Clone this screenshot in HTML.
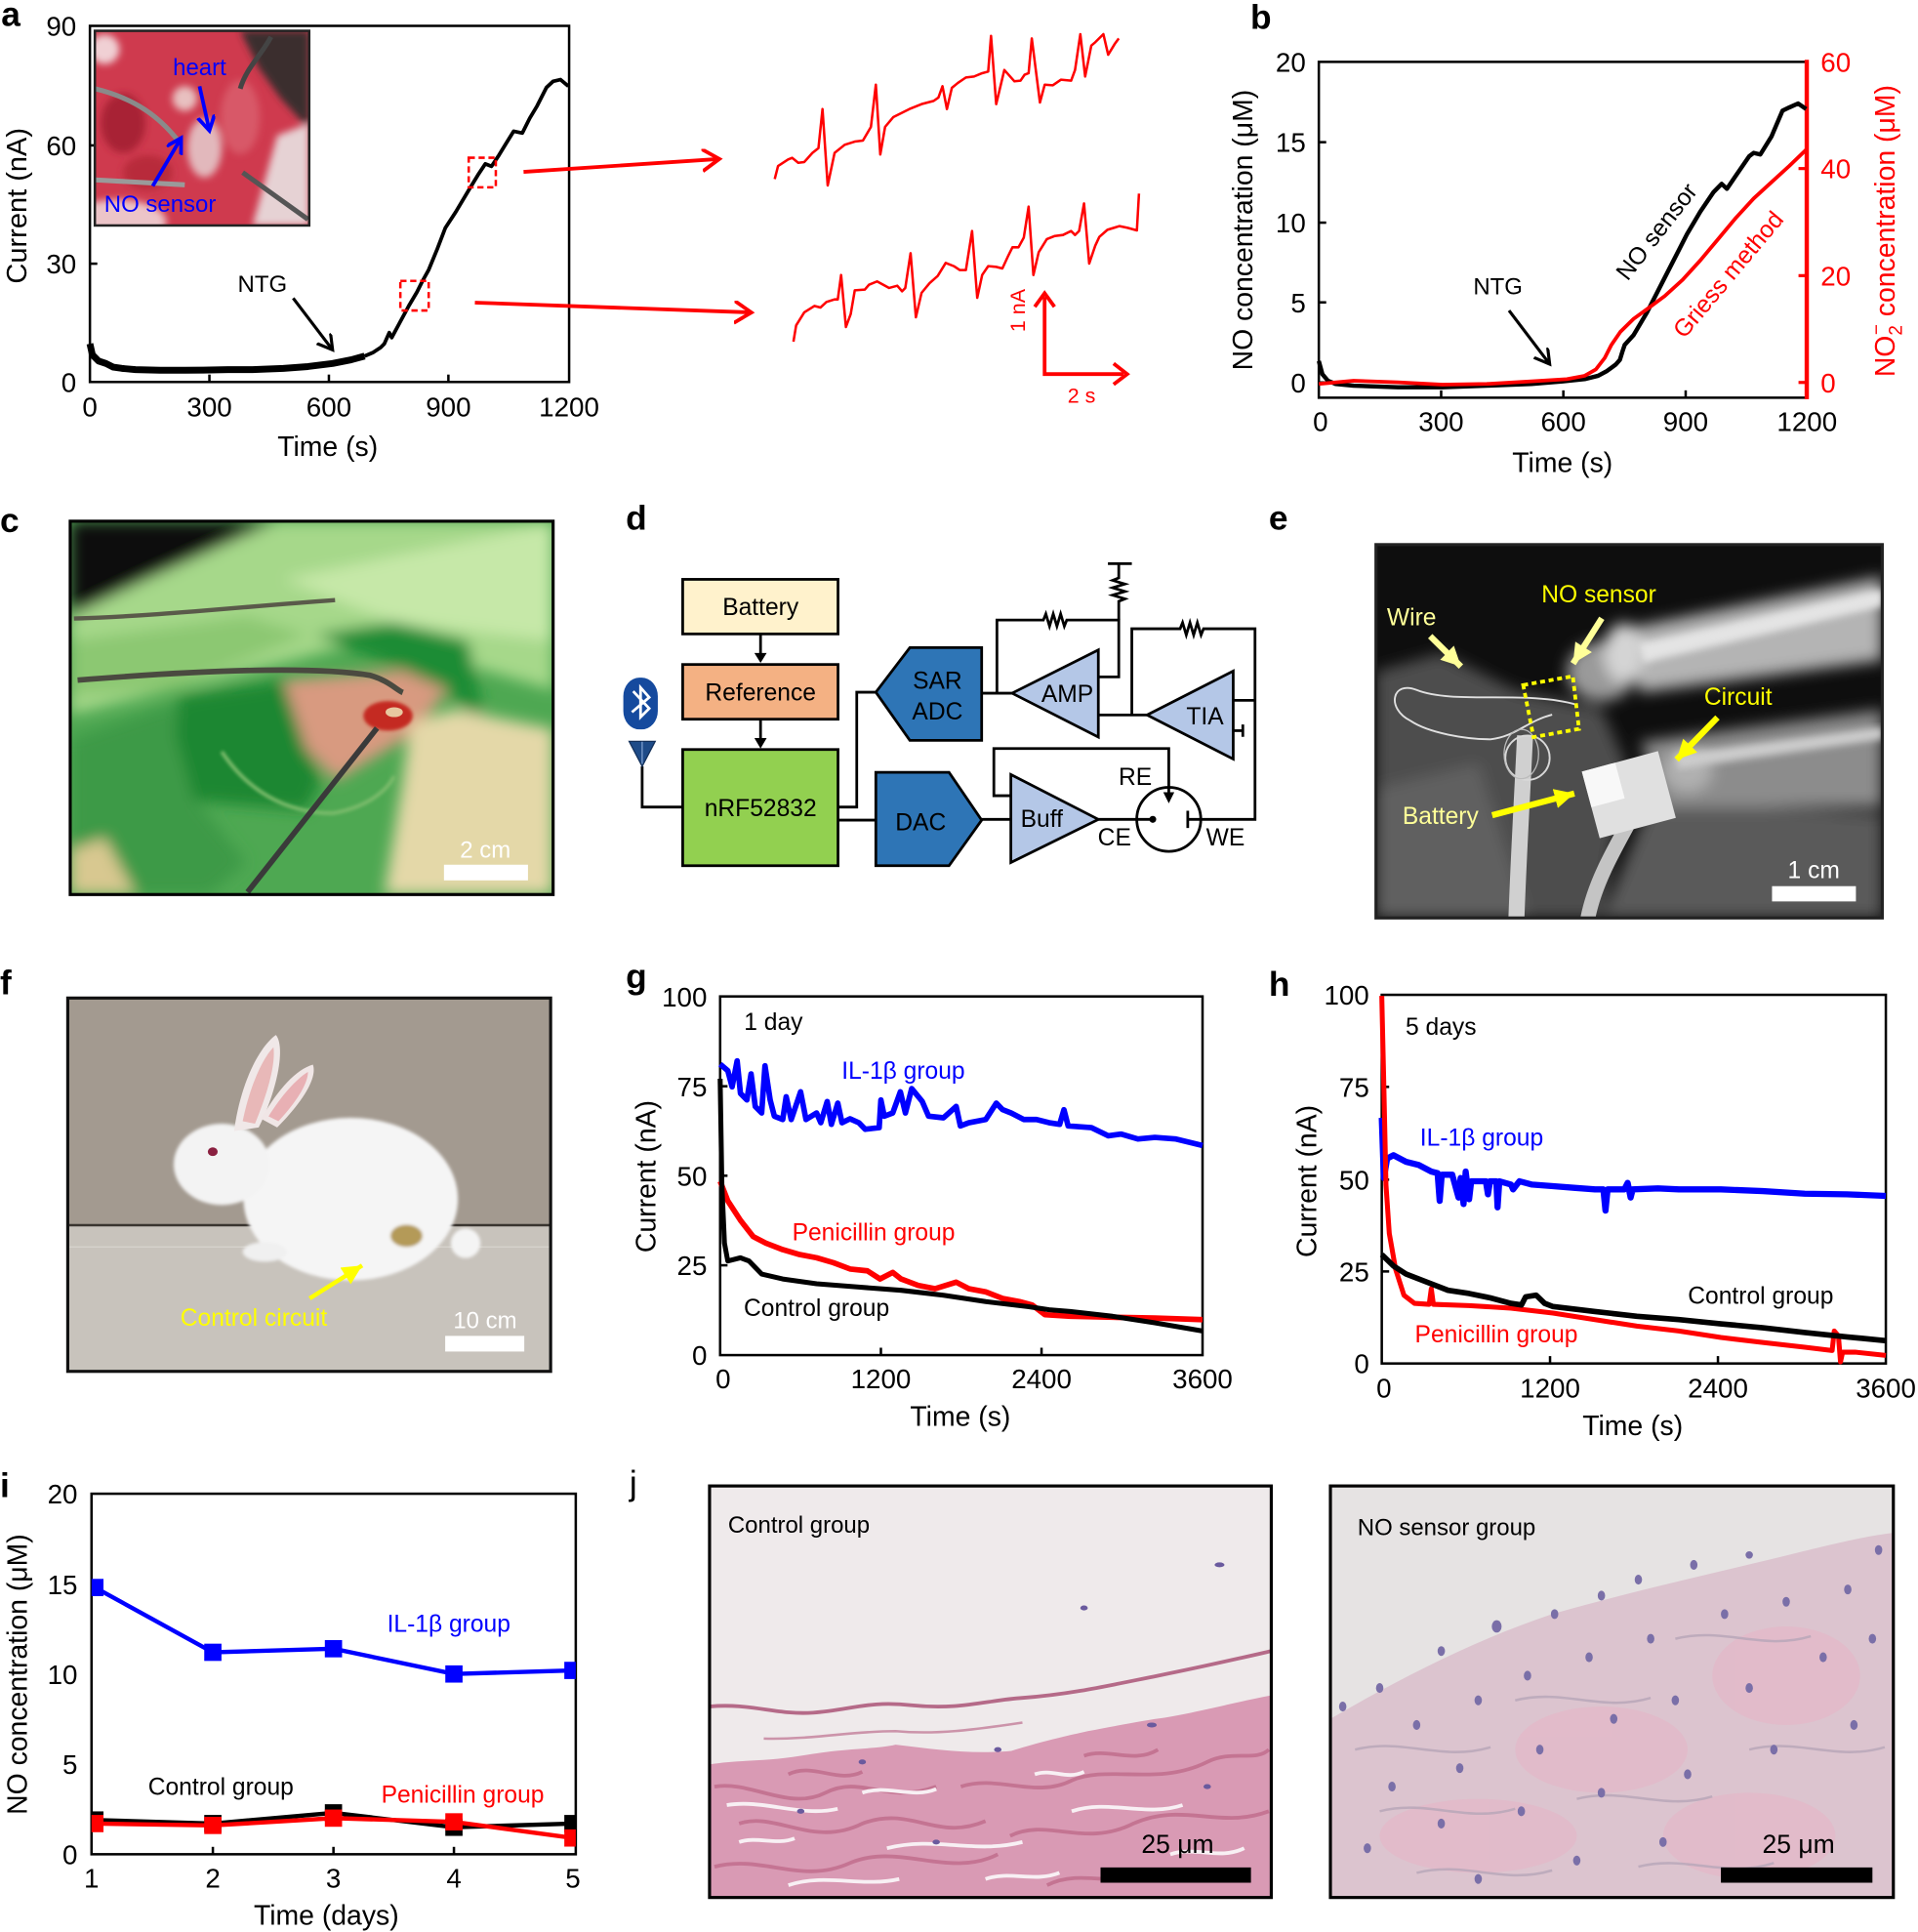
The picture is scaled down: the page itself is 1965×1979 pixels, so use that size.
<!DOCTYPE html>
<html><head><meta charset="utf-8"><style>
html,body{margin:0;padding:0;background:#fff;}
svg{display:block;}
text{font-family:"Liberation Sans",Arial,sans-serif;}
</style></head><body>
<svg width="1965" height="1979" viewBox="0 0 1557 1568" preserveAspectRatio="none" xmlns="http://www.w3.org/2000/svg">
<defs>
<filter id="bl" x="-10%" y="-10%" width="120%" height="120%"><feGaussianBlur stdDeviation="3"/></filter>
<filter id="bl2" x="-10%" y="-10%" width="120%" height="120%"><feGaussianBlur stdDeviation="6"/></filter>
<filter id="bl1" x="-10%" y="-10%" width="120%" height="120%"><feGaussianBlur stdDeviation="1.2"/></filter>
<clipPath id="cpA"><rect x="77" y="25" width="174" height="158"/></clipPath>
<clipPath id="cpC"><rect x="57" y="423" width="392" height="303"/></clipPath>
<clipPath id="cpE"><rect x="1117" y="442" width="411" height="303"/></clipPath>
<clipPath id="cpF"><rect x="55" y="810" width="392" height="303"/></clipPath>
<clipPath id="cpJ1"><rect x="576" y="1206" width="456" height="334"/></clipPath>
<clipPath id="cpJ2"><rect x="1080" y="1206" width="457" height="334"/></clipPath>
<clipPath id="cpI"><rect x="74.3" y="1212.3" width="393.1" height="292.6"/></clipPath>
<marker id="ahK" markerUnits="userSpaceOnUse" markerWidth="20" markerHeight="20" refX="12" refY="7" orient="auto"><path d="M0,0 L12,7 L0,14" fill="none" stroke="#000" stroke-width="2.5"/></marker>
<marker id="ahB" markerUnits="userSpaceOnUse" markerWidth="20" markerHeight="20" refX="12" refY="7" orient="auto"><path d="M0,0 L12,7 L0,14" fill="none" stroke="#0000ff" stroke-width="3"/></marker>
<marker id="ahR" markerUnits="userSpaceOnUse" markerWidth="24" markerHeight="24" refX="14" refY="9" orient="auto"><path d="M0,0 L14,9 L0,18" fill="none" stroke="#ff0000" stroke-width="3"/></marker>
<marker id="ahY" markerUnits="userSpaceOnUse" markerWidth="24" markerHeight="24" refX="16" refY="8" orient="auto"><path d="M0,0 L16,8 L0,16 Z" fill="#ffff00"/></marker>
<marker id="ahY2" markerUnits="userSpaceOnUse" markerWidth="24" markerHeight="24" refX="16" refY="8" orient="auto"><path d="M0,0 L16,8 L0,16 Z" fill="#ffff99"/></marker>
</defs>

<!-- ============ Panel labels ============ -->
<g font-weight="bold" font-size="28" fill="#000">
<text x="1" y="21">a</text>
<text x="1015" y="23.5">b</text>
<text x="0" y="432">c</text>
<text x="508" y="430">d</text>
<text x="1030" y="430">e</text>
<text x="0" y="807">f</text>
<text x="508" y="802">g</text>
<text x="1030" y="808">h</text>
<text x="0" y="1215">i</text>
</g>
<text x="511" y="1213" font-size="28" fill="#000">j</text>

<!-- ============ Panel a ============ -->
<g>
<rect x="73" y="21" width="389" height="289" fill="none" stroke="#000" stroke-width="2"/>
<g stroke="#000" stroke-width="2">
<line x1="170" y1="310" x2="170" y2="304"/><line x1="267" y1="310" x2="267" y2="304"/><line x1="364" y1="310" x2="364" y2="304"/>
<line x1="73" y1="118" x2="79" y2="118"/><line x1="73" y1="214" x2="79" y2="214"/>
</g>
<g font-size="22" text-anchor="end"><text x="62" y="29">90</text><text x="62" y="126">60</text><text x="62" y="222">30</text><text x="62" y="318">0</text></g>
<g font-size="22" text-anchor="middle"><text x="73" y="338">0</text><text x="170" y="338">300</text><text x="267" y="338">600</text><text x="364" y="338">900</text><text x="462" y="338">1200</text></g>
<text x="266" y="370" font-size="22.5" text-anchor="middle">Time (s)</text>
<text transform="translate(21.5,167) rotate(-90)" font-size="23" text-anchor="middle">Current (nA)</text>
<!-- inset photo -->
<g clip-path="url(#cpA)">
<rect x="77" y="25" width="174" height="158" fill="#cf3a4e"/>
<g filter="url(#bl)">
<polygon points="195,25 251,25 251,105 228,80 210,55" fill="#3a2f2f"/>
<ellipse cx="95" cy="180" rx="40" ry="18" fill="#ecc4c8"/>
<polygon points="225,110 251,100 251,183 205,183" fill="#e6d2d4"/>
<ellipse cx="100" cy="100" rx="18" ry="24" fill="#a82234"/>
<ellipse cx="166" cy="120" rx="14" ry="24" fill="#e2b8bc"/>
<ellipse cx="150" cy="80" rx="10" ry="10" fill="#e8c0c0"/>
<ellipse cx="195" cy="95" rx="16" ry="30" fill="#d85868"/>
<ellipse cx="85" cy="40" rx="12" ry="12" fill="#f0d0d4"/>
<ellipse cx="120" cy="140" rx="20" ry="14" fill="#b82a3a"/>
</g>
<path d="M77,72 C110,80 130,95 146,116" stroke="#8a8a8a" stroke-width="4" fill="none"/>
<path d="M77,146 L150,150" stroke="#9a9a9a" stroke-width="4" fill="none"/>
<path d="M197,140 L250,178" stroke="#555" stroke-width="4" fill="none"/>
<path d="M220,30 C212,45 200,55 195,72" stroke="#444" stroke-width="4" fill="none"/>
</g>
<rect x="77" y="25" width="174" height="158" fill="none" stroke="#222" stroke-width="2"/>
<text x="162" y="61" font-size="19" fill="#0000ff" text-anchor="middle">heart</text>
<text x="130" y="172" font-size="19" fill="#0000ff" text-anchor="middle">NO sensor</text>
<line x1="162" y1="70" x2="170" y2="106" stroke="#0000ff" stroke-width="3" marker-end="url(#ahB)"/>
<line x1="124" y1="151" x2="147" y2="112" stroke="#0000ff" stroke-width="3" marker-end="url(#ahB)"/>
<!-- curve -->
<polyline fill="none" stroke="#000" stroke-width="5.5" stroke-linejoin="round" points="73,279 75,288 80,293 86,295 92,298 99,299 110,300 130,300.5 150,300.5 165,300.4 185,300 205,300 230,299 250,297.5 270,295 285,292 296,289"/>
<polyline fill="none" stroke="#000" stroke-width="3" stroke-linejoin="round" points="296,289 303,286 309,282 312,279 316,270 318,274 325,261 332,248 338.5,237 343,228 348,219 355,202 361.5,185 370,172 381,153.5 388,142 394,133 399,135 405,126 410.5,117 417,106.5 424,108 430,96 436,86 443.6,71 449,66 455,64.6 461.4,70"/>
<rect x="380.5" y="128" width="22" height="24" fill="none" stroke="#ff0000" stroke-width="2" stroke-dasharray="5,3"/>
<rect x="325" y="228" width="23" height="24" fill="none" stroke="#ff0000" stroke-width="2" stroke-dasharray="5,3"/>
<text x="213" y="237" font-size="19" text-anchor="middle">NTG</text>
<line x1="238" y1="242" x2="270" y2="284" stroke="#000" stroke-width="2.5" marker-end="url(#ahK)"/>
<line x1="425" y1="139.5" x2="584" y2="129" stroke="#ff0000" stroke-width="3" marker-end="url(#ahR)"/>
<line x1="385.5" y1="245.6" x2="610" y2="253.6" stroke="#ff0000" stroke-width="3" marker-end="url(#ahR)"/>
<polyline fill="none" stroke="#ff0000" stroke-width="2" stroke-linejoin="round" points="628.9,145.3 631.6,134.7 639.8,129.4 643.1,128.1 648,132.1 652.9,131.5 659.5,124.1 664.4,120.2 667.7,88.5 671.9,150.5 677.5,124.1 685.7,117.5 693.9,114.9 700.5,114.1 707,103 711,68.7 714.6,125.4 718.5,103 725.1,95.1 738.2,88.5 748.1,84.5 757.9,81.9 761.8,79.2 765.1,70 768.7,88.5 772.7,71.3 777.6,67.3 784.1,62.9 790.7,62.1 797.3,59.4 802.2,58.1 804.5,29.1 808.7,84.5 815.3,56.8 823.5,66 828.4,65.5 831.7,60.7 835,59.4 837.6,31.2 844.2,83.2 848.1,68.7 854.7,69.2 861.2,64.7 869.5,65.5 872.7,56.8 877,27.7 880.9,62.1 885.9,37 889.1,34.3 895.7,27.7 899.6,44.4 904.9,35.7 908.2,31.2"/>
<polyline fill="none" stroke="#ff0000" stroke-width="2" stroke-linejoin="round" points="644.1,277.3 646.3,264.1 652.9,253.5 661.1,248.3 666,249.6 670.9,245.1 677.5,243 680.1,243 682.8,223.2 686.7,265.4 690.6,254.9 693.9,235.6 702.1,235 705.4,231.1 712,228.4 721.8,233.7 728.4,231.9 732.3,236.4 734.9,233.7 739.2,205.5 743.5,257.5 748.1,237.7 754.6,229.8 761.2,224 767.7,213.4 774.3,216 779.2,219.2 784.1,219.2 789.1,187.5 793.3,241.7 797.3,223.2 802.2,216 808.7,216.6 813.7,217.9 818.6,207.3 821.9,200.7 826.8,200.7 831.1,192.8 835,167.7 838.9,223.2 843.2,204.7 849.8,194.1 856.3,191.5 862.9,190.7 869.5,187.5 872.7,190.7 876,187.5 880,165.1 884.2,213.9 889.1,199.4 892.4,192.3 899,186.5 908.8,183.5 915.4,184.9 922.9,187 924.6,157.1"/>
<polyline fill="none" stroke="#ff0000" stroke-width="3" points="848,241 848,303.6 912,303.6"/>
<polyline fill="none" stroke="#ff0000" stroke-width="3" points="840,249 848,238 856,249"/>
<polyline fill="none" stroke="#ff0000" stroke-width="3" points="904,295 915,303.6 904,312"/>
<text transform="translate(832,252) rotate(-90)" font-size="17" fill="#ff0000" text-anchor="middle">1 nA</text>
<text x="878" y="327" font-size="17" fill="#ff0000" text-anchor="middle">2 s</text>
</g>

<!-- ============ Panel b ============ -->
<g>
<polyline points="1466.7,50.2 1070.6,50.2 1070.6,322.8 1466.7,322.8" fill="none" stroke="#000" stroke-width="2"/>
<line x1="1466.7" y1="48.5" x2="1466.7" y2="324" stroke="#ff0000" stroke-width="3.5"/>
<g stroke="#000" stroke-width="2">
<line x1="1169.9" y1="322.8" x2="1169.9" y2="316.8"/><line x1="1269.1" y1="322.8" x2="1269.1" y2="316.8"/><line x1="1368.4" y1="322.8" x2="1368.4" y2="316.8"/>
<line x1="1070.6" y1="115.4" x2="1076.6" y2="115.4"/><line x1="1070.6" y1="180.7" x2="1076.6" y2="180.7"/><line x1="1070.6" y1="245.4" x2="1076.6" y2="245.4"/><line x1="1070.6" y1="310.4" x2="1076.6" y2="310.4"/>
</g>
<g stroke="#ff0000" stroke-width="2.5">
<line x1="1466.7" y1="136.8" x2="1460" y2="136.8"/><line x1="1466.7" y1="223.7" x2="1460" y2="223.7"/><line x1="1466.7" y1="310.4" x2="1460" y2="310.4"/>
</g>
<g font-size="22" text-anchor="end"><text x="1060" y="58.2">20</text><text x="1060" y="123.4">15</text><text x="1060" y="188.7">10</text><text x="1060" y="253.4">5</text><text x="1060" y="318.4">0</text></g>
<g font-size="22" fill="#ff0000"><text x="1478" y="58.2">60</text><text x="1478" y="144.8">40</text><text x="1478" y="231.7">20</text><text x="1478" y="318.4">0</text></g>
<g font-size="22" text-anchor="middle"><text x="1072" y="350">0</text><text x="1169.9" y="350">300</text><text x="1269.1" y="350">600</text><text x="1368.4" y="350">900</text><text x="1466.9" y="350">1200</text></g>
<text x="1268.4" y="383" font-size="22.5" text-anchor="middle">Time (s)</text>
<text transform="translate(1016.5,186.7) rotate(-90)" font-size="22.5" text-anchor="middle">NO concentration (μM)</text>
<text transform="translate(1538,187.5) rotate(-90)" font-size="22.5" text-anchor="middle" fill="#ff0000">NO<tspan font-size="15" dy="6">2</tspan><tspan font-size="15" dy="-16" dx="-8">−</tspan><tspan dy="10"> concentration (μM)</tspan></text>
<polyline fill="none" stroke="#000" stroke-width="3.5" stroke-linejoin="round" points="1070.6,293 1073.5,303.7 1078,309 1084.3,311.6 1098.8,313 1134.9,314.3 1171,314.3 1207,313 1243.1,311.6 1268.4,309.5 1286.4,307.7 1297.3,305 1304.5,301.1 1311.7,295.8 1315,292 1317.1,285.2 1318.9,279.9 1326.1,272 1337,253.5 1347.8,232.4 1358.6,211.3 1369.4,190.2 1380.3,171.7 1391.1,155.8 1397.6,149.2 1401.9,153.2 1409.1,142.6 1420,126.8 1423.6,124.1 1429,125.4 1438,110.9 1447,89.8 1452.5,87.2 1459.7,84 1466.2,88.5"/>
<polyline fill="none" stroke="#ff0000" stroke-width="3" stroke-linejoin="round" points="1070.6,311.6 1098.8,309 1134.9,310.3 1171,312.2 1207,311.6 1243.1,309.5 1272,307.7 1286.4,305 1295.5,299.8 1302.7,290.5 1308.1,279.9 1315.3,269.4 1326.1,258.8 1337,250.9 1351.4,240.3 1365.9,227.1 1380.3,211.3 1394.7,194.1 1409.1,176.9 1423.6,161.1 1438,147.9 1452.5,134.7 1466.2,121.5"/>
<text x="1216" y="239" font-size="19" text-anchor="middle">NTG</text>
<line x1="1225" y1="252" x2="1258" y2="295.5" stroke="#000" stroke-width="2.5" marker-end="url(#ahK)"/>
<text transform="translate(1350,192) rotate(-52)" font-size="19.5" text-anchor="middle">NO sensor</text>
<text transform="translate(1408,227) rotate(-50)" font-size="19.5" text-anchor="middle" fill="#ff0000">Griess method</text>
</g>

<!-- ============ Panel c ============ -->
<g clip-path="url(#cpC)">
<rect x="57" y="423" width="392" height="303" fill="#4ea852"/>
<g filter="url(#bl2)">
<polygon points="57,423 449,423 449,560 380,540 300,520 200,545 57,580" fill="#a6d88a"/>
<polygon points="230,470 449,425 449,520 320,505" fill="#c6e8a8"/>
<polygon points="57,423 225,423 120,470 57,500" fill="#0c0c0c"/>
<polygon points="57,600 145,570 160,650 200,700 170,726 57,726" fill="#3c9a46"/>
<polygon points="145.4,565.2 230.2,552 260.5,633.9 248.4,657.7 157.5,649.7 142.4,596.9" fill="#1a8732"/>
<polygon points="255,515 320,505 380,520 395,590 360,560 327,544" fill="#1e8c35"/>
<polygon points="230.2,552 327.1,544.1 363.5,560 333.2,597 272.6,633.9 248.4,607.5" fill="#d89a80"/>
<polygon points="333.2,586.4 369.5,575.8 449,591.6 449,726 312,726 327,634" fill="#e4d8a8"/>
<polygon points="57,690 85,680 110,726 57,726" fill="#d8c890"/>
<polygon points="57,520 200,500 250,515 140,560 57,565" fill="#8cc872"/>
</g>
<path d="M180,610 C200,640 230,660 270,660 C300,655 315,640 320,630" stroke="#7cbc6c" stroke-width="3" fill="none" filter="url(#bl1)"/>
<ellipse cx="315" cy="581" rx="20" ry="12" fill="#c42a20" filter="url(#bl1)"/>
<ellipse cx="320" cy="578" rx="7" ry="4" fill="#e8c8a0"/>
<path d="M60,502 C130,500 200,492 272,487" stroke="#5a5a4a" stroke-width="3.5" fill="none"/>
<path d="M63,552 C150,545 250,540 300,548 C315,552 322,560 327,562" stroke="#4a4a40" stroke-width="4.5" fill="none"/>
<path d="M201,724 L306,591" stroke="#3a3a3a" stroke-width="4.5" fill="none"/>
</g>
<rect x="57" y="423" width="392" height="303" fill="none" stroke="#000" stroke-width="2.5"/>
<rect x="360.4" y="701.8" width="68.2" height="12.7" fill="#fff"/>
<text x="394" y="696" font-size="19" fill="#fff" text-anchor="middle">2 cm</text>

<!-- ============ Panel d ============ -->
<g stroke="#000" stroke-width="2.2" fill="none">
<rect x="554.2" y="470.2" width="126.1" height="44.3" fill="#fff2cc"/>
<rect x="554.2" y="539.3" width="126.1" height="44.4" fill="#f4b183"/>
<rect x="554.2" y="608.3" width="126.1" height="94.3" fill="#92d050"/>
<polygon points="711,561.8 738.6,525.6 796.9,525.6 796.9,600.9 738.6,600.9" fill="#2e75b6"/>
<polygon points="711,626.8 770.4,626.8 796.9,665.6 770.4,702.6 711,702.6" fill="#2e75b6"/>
<polygon points="821.6,562.6 891.6,527.5 891.6,598.2" fill="#b4c7e7"/>
<polygon points="931.2,580.3 1001.1,544.6 1001.1,616" fill="#b4c7e7"/>
<polygon points="820.6,628.6 891.6,665 820.6,700" fill="#b4c7e7"/>
<line x1="617.4" y1="514.5" x2="617.4" y2="532"/>
<line x1="617.4" y1="583.7" x2="617.4" y2="601"/>
<polyline points="680.3,655 695.5,655 695.5,561.8 711,561.8"/>
<line x1="680.3" y1="665.6" x2="711" y2="665.6"/>
<line x1="796.9" y1="562.6" x2="821.6" y2="562.6"/>
<path d="M809.3,562.6 V503.2 H847 l2,-5 l3,10 l3,-10 l3,10 l3,-10 l3,10 l2,-5 H908.2 V549.4 H891.6"/>
<path d="M908.2,503.2 V488 l5,-2 l-10,-3 l10,-3 l-10,-3 l10,-3 l-10,-3 l5,-2 V457.5"/>
<line x1="899.4" y1="457.5" x2="918.8" y2="457.5"/>
<line x1="891.6" y1="580.3" x2="931.2" y2="580.3"/>
<path d="M918.8,580.3 V510.3 H958 l2,-5 l3,10 l3,-10 l3,10 l3,-10 l3,10 l2,-5 H1018.8 V665 H964.2"/>
<line x1="1001.1" y1="568.4" x2="1018.8" y2="568.4"/>
<line x1="1001.1" y1="593" x2="1008.9" y2="593"/>
<line x1="1008.9" y1="588" x2="1008.9" y2="598"/>
<line x1="796.9" y1="665" x2="820.6" y2="665"/>
<polyline points="820.6,645.8 806.8,645.8 806.8,607.5 948.8,607.5 948.8,645"/>
<line x1="891.6" y1="665" x2="935.8" y2="665"/>
<circle cx="948.8" cy="665" r="26"/>
<line x1="964.2" y1="658" x2="964.2" y2="672"/>
<polyline points="521.3,622 521.3,655 554.2,655"/>
</g>
<polygon points="612.4,530 622.4,530 617.4,538" fill="#000"/>
<polygon points="612.4,599 622.4,599 617.4,607.5" fill="#000"/>
<polygon points="944.3,643 953.3,643 948.8,652" fill="#000"/>
<circle cx="935.8" cy="665" r="2.8" fill="#000"/>
<rect x="506" y="550" width="28" height="42" rx="13" ry="15" fill="#154a9e"/>
<path d="M514,561 L527,575 L520,582 L520,558 L527,566 L513,578" stroke="#fff" stroke-width="2.2" fill="none"/>
<polygon points="510.7,601.7 531.9,601.7 521.3,622" fill="#1e4b88" stroke="#13305a" stroke-width="1"/>
<line x1="521.3" y1="602" x2="521.3" y2="620" stroke="#7fa0d0" stroke-width="1"/>
<g font-size="19.5" text-anchor="middle" fill="#000">
<text x="617.4" y="499">Battery</text>
<text x="617.4" y="568.5">Reference</text>
<text x="617.4" y="662.5">nRF52832</text>
<text x="761" y="559">SAR</text>
<text x="761" y="584">ADC</text>
<text x="747.4" y="674">DAC</text>
<text x="866.5" y="569.5">AMP</text>
<text x="978.2" y="588">TIA</text>
<text x="845.7" y="671.3">Buff</text>
<text x="921.6" y="637">RE</text>
<text x="904.7" y="686.3">CE</text>
<text x="994.8" y="686.3">WE</text>
</g>

<!-- ============ Panel e ============ -->
<g clip-path="url(#cpE)">
<rect x="1117" y="442" width="411" height="303" fill="#0e0e0e"/>
<g filter="url(#bl2)">
<polygon points="1117,545 1170,530 1230,560 1300,575 1320,620 1300,745 1117,745" fill="#4e4e4e"/>
<polygon points="1117,640 1200,620 1240,745 1117,745" fill="#616161"/>
<polygon points="1300,745 1340,650 1528,660 1528,745" fill="#5a5a5a"/>
<polygon points="1312,512 1528,468 1528,536 1332,562" fill="#b4b4b4"/>
<polygon points="1332,602 1528,576 1528,655 1349,655" fill="#8c8c8c"/>
<ellipse cx="1300" cy="545" rx="28" ry="24" fill="#9a9a9a"/>
<ellipse cx="1318" cy="530" rx="16" ry="24" fill="#d4d4d4"/>
<ellipse cx="1370" cy="625" rx="20" ry="18" fill="#b0b0b0"/>
</g>
<polygon points="1330,522 1528,478 1528,492 1334,538" fill="#e4e4e4" filter="url(#bl)"/>
<polygon points="1360,612 1528,590 1528,600 1362,624" fill="#cccccc" filter="url(#bl)"/>
<path d="M1238,597 C1236,640 1233,690 1231,745" stroke="#d0d0d0" stroke-width="13" fill="none"/>
<path d="M1332,650 C1310,690 1295,715 1289,745" stroke="#c4c4c4" stroke-width="12" fill="none"/>
<g transform="rotate(-15 1322 644)"><rect x="1290" y="617" width="64" height="56" fill="#e0e0e0"/><rect x="1290" y="617" width="28" height="30" fill="#f8f8f8"/></g>
<path d="M1280,572 C1240,560 1180,572 1150,560 C1130,552 1125,575 1145,585 C1160,595 1190,600 1210,600 C1230,598 1240,585 1260,580" stroke="#e0e0e0" stroke-width="1.5" fill="none"/>
<ellipse cx="1240" cy="615" rx="18" ry="18" stroke="#d8d8d8" stroke-width="1.5" fill="none"/>
<ellipse cx="1235" cy="612" rx="14" ry="20" stroke="#bbb" stroke-width="1" fill="none"/>
</g>
<rect x="1117" y="442" width="411" height="303" fill="none" stroke="#222" stroke-width="2.5"/>
<polygon points="1236.5,556 1276.8,548.8 1281.8,591.6 1244.9,598.2" fill="none" stroke="#ffff00" stroke-width="3" stroke-dasharray="4,3"/>
<line x1="1161" y1="516.3" x2="1186" y2="541" stroke="#ffff99" stroke-width="5" marker-end="url(#ahY2)"/>
<line x1="1300.3" y1="501.8" x2="1277" y2="538.5" stroke="#ffff99" stroke-width="5" marker-end="url(#ahY2)"/>
<line x1="1394.2" y1="582.3" x2="1361" y2="616.5" stroke="#ffff00" stroke-width="5" marker-end="url(#ahY)"/>
<line x1="1211.3" y1="661.6" x2="1278" y2="644" stroke="#ffff00" stroke-width="5" marker-end="url(#ahY)"/>
<g font-size="19.5">
<text x="1145.9" y="507.5" fill="#ffff99" text-anchor="middle">Wire</text>
<text x="1297.9" y="489" fill="#ffff00" text-anchor="middle">NO sensor</text>
<text x="1411" y="572" fill="#ffff00" text-anchor="middle">Circuit</text>
<text x="1169.4" y="668.6" fill="#ffff99" text-anchor="middle">Battery</text>
<text x="1472.4" y="712.7" fill="#fff" text-anchor="middle">1 cm</text>
</g>
<rect x="1438.5" y="719.2" width="68.1" height="12.4" fill="#fff"/>

<!-- ============ Panel f ============ -->
<g clip-path="url(#cpF)">
<rect x="55" y="810" width="392" height="185" fill="#a39a90"/>
<rect x="55" y="994" width="392" height="120" fill="#c8c3bc"/>
<line x1="55" y1="994.4" x2="447" y2="994.4" stroke="#3a3530" stroke-width="2"/>
<line x1="55" y1="1012" x2="447" y2="1012" stroke="#d8d4ce" stroke-width="1"/>
<g filter="url(#bl1)">
<ellipse cx="284.7" cy="973.2" rx="87" ry="66" fill="#f5f5f5"/>
<ellipse cx="180" cy="945" rx="39" ry="33" fill="#f3f3f3"/>
<ellipse cx="215" cy="1016" rx="18" ry="8" fill="#f0f0f0"/>
<ellipse cx="378" cy="1009" rx="12" ry="12" fill="#f4f4f4"/>
<ellipse cx="330" cy="1003" rx="13" ry="9" fill="#b49a58"/>
</g>
<path d="M190,918 C195,880 210,850 224,840 C232,850 225,885 210,915 Z" fill="#f0e8e8"/>
<path d="M197,910 C202,885 212,860 222,850 C224,865 216,890 207,912 Z" fill="#e8b8b8"/>
<path d="M212,908 C225,885 240,868 254,864 C258,875 245,895 225,915 Z" fill="#f0e6e6"/>
<path d="M218,906 C228,890 240,876 250,870 C250,880 240,895 226,910 Z" fill="#e8b0b4"/>
<ellipse cx="172.7" cy="934.7" rx="4" ry="3.5" fill="#8a2040"/>
</g>
<rect x="55" y="810" width="392" height="303" fill="none" stroke="#111" stroke-width="2.5"/>
<line x1="251.4" y1="1053.8" x2="294" y2="1027" stroke="#ffff00" stroke-width="3.5" marker-end="url(#ahY)"/>
<text x="206" y="1076" font-size="19.5" fill="#ffff00" text-anchor="middle">Control circuit</text>
<text x="393.8" y="1078" font-size="19" fill="#fff" text-anchor="middle">10 cm</text>
<rect x="361.4" y="1084.2" width="64.2" height="12.7" fill="#fff"/>

<!-- ============ Panel g ============ -->
<g>
<rect x="584.6" y="808.7" width="391.6" height="291.1" fill="none" stroke="#000" stroke-width="2"/>
<g stroke="#000" stroke-width="2">
<line x1="715.1" y1="1099.8" x2="715.1" y2="1093.8"/><line x1="845.5" y1="1099.8" x2="845.5" y2="1093.8"/>
<line x1="584.6" y1="881.6" x2="590.6" y2="881.6"/><line x1="584.6" y1="954.2" x2="590.6" y2="954.2"/><line x1="584.6" y1="1026.9" x2="590.6" y2="1026.9"/>
</g>
<g font-size="22" text-anchor="end"><text x="574" y="816.7">100</text><text x="574" y="889.6">75</text><text x="574" y="962.2">50</text><text x="574" y="1034.9">25</text><text x="574" y="1107.8">0</text></g>
<g font-size="22" text-anchor="middle"><text x="587" y="1126.5">0</text><text x="715.1" y="1126.5">1200</text><text x="845.5" y="1126.5">2400</text><text x="976.2" y="1126.5">3600</text></g>
<text x="779.6" y="1157" font-size="22.5" text-anchor="middle">Time (s)</text>
<text transform="translate(532,954.8) rotate(-90)" font-size="22.5" text-anchor="middle">Current (nA)</text>
<polyline fill="none" stroke="#0000ff" stroke-width="4.5" stroke-linejoin="round" points="584.6,863.7 590.8,868.9 594.3,882.1 598.4,861 601.1,887.4 606.3,892.7 609.7,871.6 613.1,898 618.3,903.3 621,865 625.2,892.7 628.6,905.9 635.4,908.6 638.2,890.1 642.3,908.6 649.9,886.1 654.3,908.6 662.9,903.3 666.3,911.2 671.5,894 674.9,912.5 680.1,895.3 683.5,911.2 690,908 697.2,911.2 702.4,916.5 713.7,915.2 715.1,892.7 717.8,905.9 724.7,903.3 730.9,886.1 735,903.3 740.1,883.5 748.7,894 753.8,905.9 765.9,907.2 776.2,898 779.6,913.8 786.5,911.2 800.2,908.6 808.8,895.3 813.9,900.6 820.8,903.3 831.1,908.6 841.4,908.6 851.7,911.2 860.2,912.5 863.7,900.6 867.1,913.8 886,915.2 899.7,921.8 910,920.4 923.7,924.4 937.5,923.1 954.6,924.4 976.2,929.7"/>
<polyline fill="none" stroke="#ff0000" stroke-width="4.5" stroke-linejoin="round" points="584.6,958.7 590.8,974.6 601.1,990.4 611.4,1003.6 621.7,1008.9 635.4,1014.2 649.2,1018.2 662.9,1020.8 676.6,1024.8 690.4,1030 704.1,1031.4 714.4,1038 724.7,1032.7 731.5,1038 745.3,1043.2 759,1045.9 776.2,1040.6 786.5,1045.9 800.2,1048.5 813.9,1053.8 827.6,1056.4 837.9,1059.1 848.2,1067 868.8,1068.3 903.1,1069.1 937.5,1069.7 976.2,1071"/>
<polyline fill="none" stroke="#000" stroke-width="4" stroke-linejoin="round" points="584.6,875.5 586,961.4 588.1,1008.9 590.8,1023.4 601.1,1020.8 608,1023.4 618.3,1034 635.4,1038 662.9,1041.9 697.2,1044.6 731.5,1047.2 765.9,1051.2 800.2,1056.4 834.5,1060.4 851.7,1063 868.8,1064.4 903.1,1068.3 937.5,1073.6 976.2,1080.2"/>
<g font-size="19.5">
<text x="604" y="836">1 day</text>
<text x="733.3" y="875.5" fill="#0000ff" text-anchor="middle">IL-1β group</text>
<text x="709.2" y="1006.5" fill="#ff0000" text-anchor="middle">Penicillin group</text>
<text x="662.9" y="1068" text-anchor="middle">Control group</text>
</g>
</g>

<!-- ============ Panel h ============ -->
<g>
<rect x="1121.7" y="807.4" width="409.2" height="299.2" fill="none" stroke="#000" stroke-width="2"/>
<g stroke="#000" stroke-width="2">
<line x1="1258.3" y1="1106.6" x2="1258.3" y2="1100.6"/><line x1="1394.6" y1="1106.6" x2="1394.6" y2="1100.6"/>
<line x1="1121.7" y1="882.1" x2="1127.7" y2="882.1"/><line x1="1121.7" y1="957.4" x2="1127.7" y2="957.4"/><line x1="1121.7" y1="1031.9" x2="1127.7" y2="1031.9"/>
</g>
<g font-size="22" text-anchor="end"><text x="1111.5" y="815.4">100</text><text x="1111.5" y="890.1">75</text><text x="1111.5" y="965.4">50</text><text x="1111.5" y="1039.9">25</text><text x="1111.5" y="1114.6">0</text></g>
<g font-size="22" text-anchor="middle"><text x="1123.5" y="1134.4">0</text><text x="1258.3" y="1134.4">1200</text><text x="1394.6" y="1134.4">2400</text><text x="1530.9" y="1134.4">3600</text></g>
<text x="1325.4" y="1164.8" font-size="22.5" text-anchor="middle">Time (s)</text>
<text transform="translate(1068.4,958.7) rotate(-90)" font-size="22.5" text-anchor="middle">Current (nA)</text>
<polyline fill="none" stroke="#0000ff" stroke-width="5" stroke-linejoin="round" points="1121.7,907.2 1123.4,956.1 1126.1,940.2 1131.2,937.6 1141.4,942.9 1151.7,945.5 1161.9,950.8 1167,952.1 1168.7,974.6 1170.4,953.4 1178.9,953.4 1184,971.9 1185.7,956.1 1188.1,977.2 1189.8,950.8 1192.6,973.3 1194.3,958.7 1206.2,958.7 1207.9,969.3 1209.6,958.7 1214.7,958.7 1215.7,979.9 1217.1,958.7 1226.6,961.4 1228.3,965.3 1233.4,958.7 1243.7,961.4 1260.7,962.7 1277.7,964 1294.8,965.3 1301.6,965.3 1303.3,982.5 1305,965.3 1318.6,965.3 1321.3,960 1323.7,971.9 1325.4,965.3 1345.9,964.5 1362.9,965.3 1397,965.3 1431,966.7 1465.1,968.8 1499.2,969.3 1530.9,970.6"/>
<polyline fill="none" stroke="#ff0000" stroke-width="4" stroke-linejoin="round" points="1121.7,808.2 1123.4,882.1 1125.1,961.4 1127.8,1001 1132.9,1030 1139.7,1051.2 1148.3,1057.8 1160.2,1058.6 1161.9,1045.9 1163.6,1058.6 1192.6,1059.6 1226.6,1061.7 1260.7,1065.7 1294.8,1071 1328.8,1076.3 1362.9,1080.2 1397,1085.5 1431,1089.5 1465.1,1093.4 1487.3,1096.1 1489,1080.2 1492.4,1084.2 1494.1,1105.3 1495.8,1097.4 1506,1097.4 1530.9,1100"/>
<polyline fill="none" stroke="#000" stroke-width="4.5" stroke-linejoin="round" points="1121.7,1018.2 1131.2,1027.4 1141.4,1034 1158.5,1040.6 1175.5,1047.2 1192.6,1049.8 1209.6,1053.3 1226.6,1057.8 1235.1,1059.1 1238.5,1052.5 1247.1,1051.2 1253.9,1057.8 1260.7,1060.4 1294.8,1064.4 1328.8,1068.3 1362.9,1071 1397,1074.4 1431,1077.6 1465.1,1081.5 1499.2,1085 1530.9,1088.1"/>
<g font-size="19.5">
<text x="1141" y="840">5 days</text>
<text x="1202.8" y="929.7" fill="#0000ff" text-anchor="middle">IL-1β group</text>
<text x="1429.3" y="1058" text-anchor="middle">Control group</text>
<text x="1214.7" y="1089.5" fill="#ff0000" text-anchor="middle">Penicillin group</text>
</g>
</g>

<!-- ============ Panel i ============ -->
<g>
<rect x="74.3" y="1212.3" width="393.1" height="292.6" fill="none" stroke="#000" stroke-width="2"/>
<g stroke="#000" stroke-width="2">
<line x1="172.8" y1="1504.9" x2="172.8" y2="1498.9"/><line x1="270.7" y1="1504.9" x2="270.7" y2="1498.9"/><line x1="368.5" y1="1504.9" x2="368.5" y2="1498.9"/>
</g>
<g font-size="22" text-anchor="end"><text x="63" y="1220.3">20</text><text x="63" y="1293.7">15</text><text x="63" y="1366.6">10</text><text x="63" y="1439.5">5</text><text x="63" y="1512.9">0</text></g>
<g font-size="22" text-anchor="middle"><text x="74.3" y="1532">1</text><text x="172.8" y="1532">2</text><text x="270.7" y="1532">3</text><text x="368.5" y="1532">4</text><text x="465.1" y="1532">5</text></g>
<text x="264.9" y="1562" font-size="22.5" text-anchor="middle">Time (days)</text>
<text transform="translate(21.6,1358.9) rotate(-90)" font-size="22.5" text-anchor="middle">NO concentration (μM)</text>
<g clip-path="url(#cpI)">
<polyline fill="none" stroke="#0000ff" stroke-width="3.5" points="77,1288.4 172.8,1341 270.7,1338.1 368.5,1358.6 465.1,1355.7"/>
<g fill="#0000ff"><rect x="70" y="1281.4" width="14" height="14"/><rect x="165.8" y="1334" width="14" height="14"/><rect x="263.7" y="1331.1" width="14" height="14"/><rect x="361.5" y="1351.6" width="14" height="14"/><rect x="458.1" y="1348.7" width="14" height="14"/></g>
<polyline fill="none" stroke="#000" stroke-width="3.5" points="77,1477.1 172.8,1480 270.7,1471.3 368.5,1483 465.1,1480"/>
<g fill="#000"><rect x="70" y="1470.1" width="14" height="14"/><rect x="165.8" y="1473" width="14" height="14"/><rect x="263.7" y="1464.3" width="14" height="14"/><rect x="361.5" y="1476" width="14" height="14"/><rect x="458.1" y="1473" width="14" height="14"/></g>
<polyline fill="none" stroke="#ff0000" stroke-width="3.5" points="77,1480 172.8,1481.5 270.7,1475.6 368.5,1478.6 465.1,1491.7"/>
<g fill="#ff0000"><rect x="70" y="1473" width="14" height="14"/><rect x="165.8" y="1474.5" width="14" height="14"/><rect x="263.7" y="1468.6" width="14" height="14"/><rect x="361.5" y="1471.6" width="14" height="14"/><rect x="458.1" y="1484.7" width="14" height="14"/></g>
</g>
<g font-size="19.5">
<text x="364.3" y="1324.5" fill="#0000ff" text-anchor="middle">IL-1β group</text>
<text x="179.3" y="1456.5" text-anchor="middle">Control group</text>
<text x="375.6" y="1463" fill="#ff0000" text-anchor="middle">Penicillin group</text>
</g>
</g>

<!-- ============ Panel j ============ -->
<g clip-path="url(#cpJ1)">
<rect x="576" y="1206" width="456" height="334" fill="#efeaeb"/>
<path d="M576,1432 C600,1428 620,1430 650,1425 C690,1418 710,1420 727,1416 C760,1420 790,1424 821,1421 C850,1412 870,1408 883,1405 C910,1400 930,1396 946,1394 C980,1388 1000,1382 1032,1376 L1032,1540 L576,1540 Z" fill="#d99ab4"/>
<g stroke="#c2708f" stroke-width="3" fill="none" opacity="0.9">
<path d="M580,1450 C610,1445 640,1470 670,1455 C700,1440 720,1465 760,1450"/>
<path d="M600,1480 C630,1470 660,1500 700,1480 C740,1465 760,1495 800,1478"/>
<path d="M780,1450 C810,1440 840,1460 870,1445 C900,1432 940,1450 980,1430 C1000,1420 1020,1430 1030,1420"/>
<path d="M820,1490 C850,1475 880,1500 920,1480 C960,1462 990,1485 1030,1470"/>
<path d="M580,1515 C620,1505 650,1530 690,1512 C730,1495 770,1525 810,1505"/>
<path d="M850,1530 C880,1515 910,1535 950,1520"/>
<path d="M640,1440 C660,1430 680,1448 700,1438"/>
<path d="M880,1425 C900,1418 920,1432 940,1420"/>
</g>
<g stroke="#f8f0f4" stroke-width="3" fill="none">
<path d="M590,1465 C620,1460 650,1475 680,1468"/>
<path d="M720,1500 C760,1490 790,1505 830,1495"/>
<path d="M870,1470 C900,1460 930,1475 960,1465"/>
<path d="M640,1530 C670,1520 700,1532 730,1525"/>
<path d="M700,1455 C720,1448 740,1460 760,1452"/>
<path d="M950,1505 C970,1498 990,1510 1010,1500"/>
<path d="M600,1495 C615,1490 630,1498 645,1492"/>
<path d="M800,1525 C820,1518 840,1528 860,1520"/>
<path d="M840,1440 C855,1435 865,1445 880,1438"/>
</g>
<path d="M576,1385 C610,1382 630,1392 660,1390 C690,1388 705,1380 740,1384 C780,1388 800,1380 830,1378 C870,1375 900,1368 940,1360 C980,1352 1010,1345 1032,1340" stroke="#b56a88" stroke-width="3" fill="none"/>
<path d="M620,1411 C660,1412 690,1405 727,1405 C760,1408 790,1404 830,1398" stroke="#cc94aa" stroke-width="2" fill="none"/>
<g fill="#6a5a9e"><ellipse cx="700" cy="1430" rx="3" ry="2"/><ellipse cx="810" cy="1420" rx="3" ry="2"/><ellipse cx="935" cy="1400" rx="4" ry="2"/><ellipse cx="650" cy="1470" rx="3" ry="2"/><ellipse cx="760" cy="1495" rx="3" ry="2"/><ellipse cx="980" cy="1450" rx="3" ry="2"/><ellipse cx="880" cy="1305" rx="3" ry="2"/><ellipse cx="990" cy="1270" rx="4" ry="2"/></g>
</g>
<rect x="576" y="1206" width="456" height="334" fill="none" stroke="#000" stroke-width="2.5"/>
<text x="591" y="1244" font-size="19">Control group</text>
<rect x="893.4" y="1515.6" width="122.1" height="12.4" fill="#000"/>
<text x="956" y="1504" font-size="21" text-anchor="middle">25 μm</text>

<g clip-path="url(#cpJ2)">
<rect x="1080" y="1206" width="457" height="334" fill="#e6e3e3"/>
<path d="M1080,1395 C1140,1360 1200,1330 1260,1310 C1330,1290 1400,1275 1460,1260 C1500,1250 1520,1246 1537,1244 L1537,1540 L1080,1540 Z" fill="#dcc4cf"/>
<g fill="#e4b8c8" opacity="0.7">
<ellipse cx="1300" cy="1420" rx="70" ry="35"/><ellipse cx="1450" cy="1360" rx="60" ry="40"/><ellipse cx="1200" cy="1490" rx="80" ry="30"/><ellipse cx="1420" cy="1490" rx="70" ry="35"/>
</g>
<g stroke="#b7a6b8" stroke-width="2" fill="none" opacity="0.8">
<path d="M1100,1420 C1140,1410 1170,1430 1210,1418"/><path d="M1230,1380 C1270,1370 1300,1390 1340,1378"/><path d="M1360,1330 C1400,1320 1430,1340 1470,1328"/><path d="M1120,1470 C1160,1460 1190,1480 1230,1468"/><path d="M1280,1460 C1320,1450 1350,1470 1390,1458"/><path d="M1420,1420 C1460,1410 1490,1430 1530,1418"/><path d="M1150,1520 C1190,1510 1220,1530 1260,1518"/><path d="M1330,1515 C1370,1505 1400,1525 1440,1512"/>
</g>
<g fill="#7a6fa8">
<ellipse cx="1090" cy="1385" rx="3" ry="4"/><ellipse cx="1120" cy="1370" rx="3" ry="4"/><ellipse cx="1170" cy="1340" rx="3" ry="4"/><ellipse cx="1215" cy="1320" rx="4" ry="5"/><ellipse cx="1262" cy="1310" rx="3" ry="4"/><ellipse cx="1300" cy="1295" rx="3" ry="4"/><ellipse cx="1330" cy="1282" rx="3" ry="4"/><ellipse cx="1375" cy="1270" rx="3" ry="4"/><ellipse cx="1420" cy="1262" rx="3" ry="3"/><ellipse cx="1525" cy="1258" rx="3" ry="4"/>
<ellipse cx="1150" cy="1400" rx="3" ry="4"/><ellipse cx="1200" cy="1380" rx="3" ry="4"/><ellipse cx="1240" cy="1360" rx="3" ry="4"/><ellipse cx="1290" cy="1345" rx="3" ry="4"/><ellipse cx="1340" cy="1330" rx="3" ry="4"/><ellipse cx="1400" cy="1310" rx="3" ry="4"/><ellipse cx="1450" cy="1300" rx="3" ry="4"/><ellipse cx="1500" cy="1290" rx="3" ry="4"/>
<ellipse cx="1130" cy="1450" rx="3" ry="4"/><ellipse cx="1185" cy="1435" rx="3" ry="4"/><ellipse cx="1250" cy="1420" rx="3" ry="4"/><ellipse cx="1310" cy="1395" rx="3" ry="4"/><ellipse cx="1360" cy="1380" rx="3" ry="4"/><ellipse cx="1420" cy="1370" rx="3" ry="4"/><ellipse cx="1480" cy="1345" rx="3" ry="4"/><ellipse cx="1520" cy="1330" rx="3" ry="4"/>
<ellipse cx="1110" cy="1500" rx="3" ry="4"/><ellipse cx="1170" cy="1480" rx="3" ry="4"/><ellipse cx="1235" cy="1470" rx="3" ry="4"/><ellipse cx="1300" cy="1455" rx="3" ry="4"/><ellipse cx="1370" cy="1440" rx="3" ry="4"/><ellipse cx="1440" cy="1420" rx="3" ry="4"/><ellipse cx="1505" cy="1400" rx="3" ry="4"/>
<ellipse cx="1200" cy="1525" rx="3" ry="4"/><ellipse cx="1280" cy="1510" rx="3" ry="4"/><ellipse cx="1350" cy="1495" rx="3" ry="4"/>
</g>
</g>
<rect x="1080" y="1206" width="457" height="334" fill="none" stroke="#000" stroke-width="2.5"/>
<text x="1102" y="1246" font-size="19">NO sensor group</text>
<rect x="1397" y="1515.6" width="123" height="12.4" fill="#000"/>
<text x="1460" y="1504" font-size="21" text-anchor="middle">25 μm</text>
</svg>
</body></html>
